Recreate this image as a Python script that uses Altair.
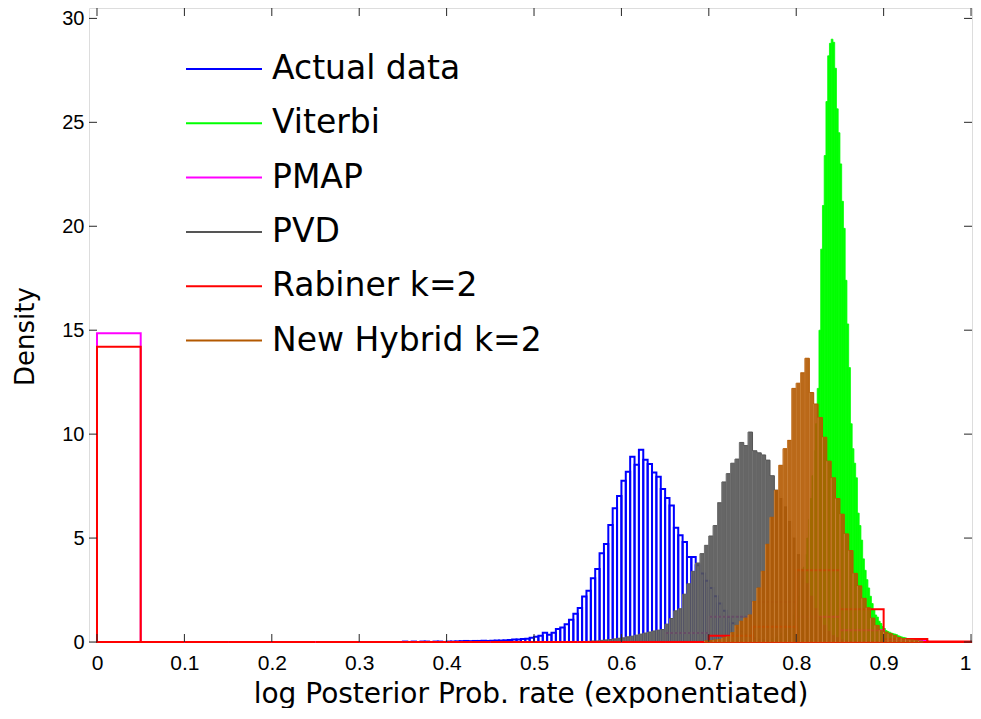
import altair as alt
import pandas as pd

# ---------------- data ----------------
names = ["Actual data", "Viterbi", "PMAP", "PVD", "Rabiner k=2", "New Hybrid k=2"]
colors = ["#0000ff", "#00ff00", "#ff00ff", "#555555", "#ff0000", "#b35900"]

x_ticks = [0, 0.1, 0.2, 0.3, 0.4, 0.5, 0.6, 0.7, 0.8, 0.9, 1.0]
x_tick_labels = ["0", "0.1", "0.2", "0.3", "0.4", "0.5", "0.6", "0.7", "0.8", "0.9", "1"]
y_ticks = [0, 5, 10, 15, 20, 25, 30]

# Actual data (blue, open bars)
actual_start = 0.35
actual_width = 0.005
actual_density = [
    0.02, 0.0, 0.02, 0.0, 0.02, 0.02, 0.0, 0.02, 0.02, 0.0,
    0.02, 0.02, 0.03, 0.04, 0.05, 0.04, 0.05, 0.05, 0.06, 0.05,
    0.06, 0.07, 0.07, 0.08, 0.10, 0.12, 0.12, 0.14, 0.16, 0.20,
    0.25, 0.30, 0.45, 0.35, 0.45, 0.62,
    0.70, 0.85, 1.07, 1.36, 1.63, 2.19, 2.47, 3.07, 3.51, 4.27,
    4.72, 5.63, 6.43, 7.02, 7.76, 8.19, 8.91, 8.53, 9.25, 8.77,
    8.56, 8.16, 7.95, 7.36, 6.93, 6.57, 5.50, 5.13, 4.81, 4.09,
    4.09, 3.69, 3.30, 2.95, 2.60, 2.20, 1.85, 1.50, 1.20, 0.90,
    0.68, 0.50, 0.35, 0.25, 0.18, 0.12, 0.08, 0.05, 0.03,
]

# Viterbi (green, filled, narrow bins)
viterbi_start = 0.770
viterbi_width = 0.002
viterbi_density = [
    0.12, 0.15, 0.18, 0.22, 0.28, 0.35, 0.42, 0.50, 0.60, 0.70,
    0.82, 0.95, 1.10, 1.30, 1.55, 1.85, 2.20, 2.60, 3.05, 3.60,
    4.20, 5.00, 5.90, 6.90, 8.00, 9.20, 10.5, 12.2,
    15.0, 18.9, 21.0, 23.4, 26.0, 28.2, 28.8, 29.0, 28.85, 27.6,
    25.65, 24.5, 23.0, 21.2, 19.9, 17.4, 15.3, 13.2, 10.5, 9.3,
    8.6, 7.9, 6.2, 5.6, 4.9, 4.0, 3.45, 3.0, 2.6, 2.2,
    1.85, 1.55, 1.30, 1.20, 1.00, 0.89, 0.75, 0.65, 0.55, 0.50,
    0.47, 0.43, 0.40, 0.38, 0.35, 0.30, 0.27, 0.24, 0.22, 0.20,
    0.17, 0.15, 0.14, 0.13, 0.12, 0.12, 0.11, 0.10, 0.08, 0.06,
    0.05, 0.04, 0.03, 0.02,
]

# PMAP (magenta, open bars, 0.05 bins)
pmap_start = 0.0
pmap_width = 0.05
pmap_density = [14.85, 0, 0, 0, 0, 0, 0, 0, 0, 0,
                0, 0, 0, 0.43, 1.21, 1.93, 1.21, 0.57, 0.05, 0.0]

# PVD (dark grey, filled)
pvd_start = 0.555
pvd_width = 0.005
pvd_density = [
    0.02, 0.03, 0.05, 0.05, 0.08, 0.10, 0.12, 0.15, 0.18, 0.20,
    0.25, 0.28, 0.33, 0.38, 0.43, 0.48, 0.53, 0.57,
    0.60, 0.86, 1.13, 1.50, 1.60, 2.30, 2.80, 3.40, 3.80, 4.25,
    4.65, 5.10, 5.60, 6.70, 7.70, 8.10, 8.60, 8.80, 9.60, 9.45,
    10.1, 9.20, 9.10, 9.00, 8.75, 8.00, 7.30, 6.90, 6.50, 5.80,
    5.00, 4.20, 3.50, 2.80, 2.20, 1.60, 1.20, 0.80, 0.50, 0.30,
    0.20, 0.10, 0.05,
]

# Rabiner k=2 (red, open bars, 0.05 bins)
rabiner_start = 0.0
rabiner_width = 0.05
rabiner_density = [14.2, 0, 0, 0, 0, 0, 0, 0, 0, 0,
                   0, 0, 0, 0, 0.30, 0.73, 3.45, 1.58, 0.15, 0.03]

# New Hybrid k=2 (brown, filled)
hybrid_start = 0.695
hybrid_width = 0.005
hybrid_density = [
    0.05, 0.07, 0.10, 0.12, 0.20, 0.25, 0.45, 0.80, 1.00, 1.15,
    1.30, 1.95, 2.60, 3.40, 4.70, 6.00, 7.30, 8.50, 9.30, 9.70,
    12.2, 12.45, 12.95, 13.65, 12.0, 11.45, 10.8, 9.85, 8.70, 7.90,
    6.90, 6.15, 5.20, 4.40, 3.30, 2.70, 2.10, 1.65, 1.15, 0.80,
    0.57, 0.48, 0.40, 0.32, 0.22, 0.17, 0.13, 0.10, 0.08, 0.05,
]

# ---------------- helpers ----------------
X_DOMAIN = [-0.00915, 1.0011]
Y_DOMAIN = [0, 30.5]
W, H = 883, 634

def hist_df(name, start, width, dens):
    rows = []
    for i, d in enumerate(dens):
        s = start + i * width
        rows.append({"series": name, "x0": s, "x1": s + width, "d": d, "base": 0.0})
    return pd.DataFrame(rows)

label_expr = "''"
for v, l in reversed(list(zip(x_ticks, x_tick_labels))):
    label_expr = f"abs(datum.value-{v})<1e-6 ? '{l}' : ({label_expr})"

LABEL_FONT = "Liberation Sans"
TITLE_FONT = "DejaVu Sans"

x_axis = alt.Axis(values=x_ticks, labelExpr=label_expr, title="log Posterior Prob. rate (exponentiated)",
                  ticks=False, domain=False, grid=False, labelFont=LABEL_FONT, labelFontSize=21,
                  labelColor="#000", labelPadding=10, titleFont=TITLE_FONT, titleFontSize=28,
                  titleFontWeight="normal", titleColor="#000", titleY=60,
                  titleBaseline="alphabetic")
y_axis = alt.Axis(values=y_ticks, title="Density", ticks=False, domain=False, grid=False,
                  labelFont=LABEL_FONT, labelFontSize=20, labelColor="#000", labelPadding=5,
                  titleFont=TITLE_FONT, titleFontSize=26, titleFontWeight="normal",
                  titleColor="#000", titleX=-64, titleY=328, titleBaseline="middle",
                  titleAlign="center", titleAngle=270)

xs = alt.Scale(domain=X_DOMAIN, nice=False, zero=False)
ys = alt.Scale(domain=Y_DOMAIN, nice=False, zero=False)
stroke_scale = alt.Scale(domain=names, range=colors)

# legend line: custom path twice as wide as the symbol box (76 px long)
legend = alt.Legend(orient="none", legendX=115, legendY=41, title=None, symbolType="M-2,0H2",
                    symbolSize=1444, symbolStrokeWidth=2, labelFont=TITLE_FONT, labelFontSize=33,
                    labelColor="#000", labelOffset=28, rowPadding=17.3, padding=0, labelLimit=0)


def hist_layer(df, filled, fill=None, stroke_width=2.0, fill_opacity=1.0):
    if filled:
        props = dict(fill=fill, fillOpacity=fill_opacity, strokeWidth=stroke_width)
    else:
        props = dict(filled=False, fillOpacity=0, strokeWidth=stroke_width)
    return alt.Chart(df).mark_bar(**props).encode(
        x=alt.X("x0:Q", scale=xs, axis=x_axis),
        x2="x1:Q",
        y=alt.Y("d:Q", scale=ys, axis=y_axis),
        y2="base:Q",
        stroke=alt.Stroke("series:N", scale=stroke_scale, legend=legend),
    )


def seam_layer(df, color):
    return alt.Chart(df).mark_rule(color=color, strokeWidth=1, opacity=0.6).encode(
        x=alt.X("x0:Q", scale=xs, axis=x_axis),
        y=alt.Y("d:Q", scale=ys, axis=y_axis),
        y2="base:Q",
    )

actual_df = hist_df(names[0], actual_start, actual_width, actual_density)
viterbi_df = hist_df(names[1], viterbi_start, viterbi_width, viterbi_density)
pmap_df = hist_df(names[2], pmap_start, pmap_width, pmap_density)
pvd_df = hist_df(names[3], pvd_start, pvd_width, pvd_density)
rabiner_df = hist_df(names[4], rabiner_start, rabiner_width, rabiner_density)
hybrid_df = hist_df(names[5], hybrid_start, hybrid_width, hybrid_density)

layers = [
    hist_layer(actual_df, False, stroke_width=2.0),
    hist_layer(viterbi_df, True, fill="#00ff00", stroke_width=0.8),
    hist_layer(pmap_df, False, stroke_width=2.0),
    hist_layer(pvd_df, True, fill="#555555", stroke_width=1.0, fill_opacity=0.9),
    seam_layer(pvd_df, "#8a8a8a"),
    hist_layer(rabiner_df, False, stroke_width=2.0),
    hist_layer(hybrid_df, True, fill="#b35900", stroke_width=1.0, fill_opacity=0.9),
    seam_layer(hybrid_df, "#d69a5c"),
]

# inward ticks on all four sides
xt = pd.DataFrame({"v": x_ticks})
yt = pd.DataFrame({"v": y_ticks})
TICK = 8
tick_color = "#262626"
bottom_ticks = alt.Chart(xt).mark_rule(color=tick_color, strokeWidth=1).encode(
    x=alt.X("v:Q", scale=xs, axis=x_axis), y=alt.value(H), y2=alt.value(H - TICK))
top_ticks = alt.Chart(xt).mark_rule(color=tick_color, strokeWidth=1).encode(
    x=alt.X("v:Q", scale=xs, axis=x_axis), y=alt.value(0), y2=alt.value(TICK))
left_ticks = alt.Chart(yt).mark_rule(color=tick_color, strokeWidth=1).encode(
    y=alt.Y("v:Q", scale=ys, axis=y_axis), x=alt.value(0), x2=alt.value(TICK))
right_ticks = alt.Chart(yt).mark_rule(color=tick_color, strokeWidth=1).encode(
    y=alt.Y("v:Q", scale=ys, axis=y_axis), x=alt.value(W), x2=alt.value(W - TICK))

chart = alt.layer(*layers, bottom_ticks, top_ticks, left_ticks, right_ticks).properties(
    width=W, height=H,
    autosize=alt.AutoSizeParams(type="none"),
    padding={"left": 81, "top": 0, "right": 1, "bottom": 66},
).configure_view(stroke="#262626", strokeWidth=1).configure(background="white")

chart.save("out.html", embed_options={"renderer": "svg", "actions": False})
